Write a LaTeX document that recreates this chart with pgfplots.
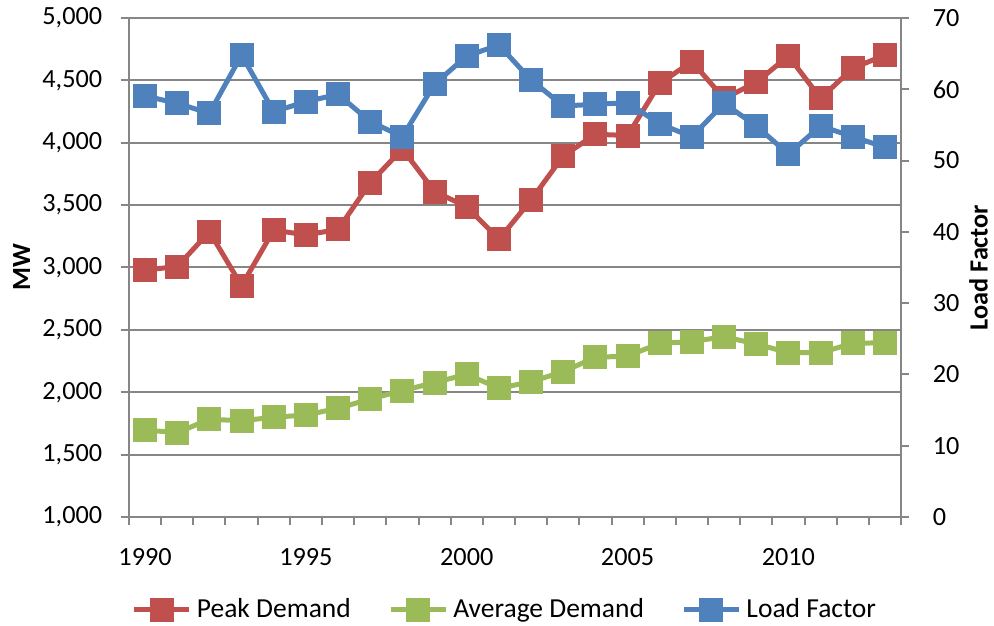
\documentclass[border=0pt]{standalone}
\usepackage{fontspec}
\setmainfont{Carlito}
\usepackage{pgfplots}
\pgfplotsset{compat=1.18}

\definecolor{peak}{HTML}{C0504D}
\definecolor{avg}{HTML}{9BBB59}
\definecolor{lf}{HTML}{4F81BD}
\definecolor{gridgray}{HTML}{868686}

\pgfplotsset{
  base/.style={
    scale only axis, width=308.8pt, height=199.6pt,
    at={(0,0)}, anchor=south west,
    xmin=1989.5, xmax=2013.5,
    tick label style={font=\fontsize{10.5}{12}\selectfont},
    label style={font=\fontsize{10.5}{12}\selectfont\bfseries},
    /pgf/number format/assume math mode=true,
    tick align=outside,
    major tick length=3.2pt,
    axis line style={gridgray, line width=0.8pt},
    tick style={gridgray, line width=0.8pt},
  },
  series/.style={color=#1, line width=2pt, mark=square*, mark size=3.8pt,
    mark options={solid, fill=#1, draw=#1}},
  legend image code/.code={
    \draw[mark repeat=2, mark phase=2] plot coordinates {(0pt,0pt) (11pt,0pt) (22pt,0pt)};},
}

\begin{document}
\begin{tikzpicture}
\path[use as bounding box] (-51.6pt,-43.6pt) rectangle (346pt,206.8pt);

\begin{axis}[base,
  axis x line*=bottom, axis y line*=left,
  ymin=1000, ymax=5000, ytick={1000,1500,...,5000},
  ymajorgrids, grid style={gridgray, line width=0.8pt},
  yticklabel style={/pgf/number format/.cd, 1000 sep={,}, /tikz/.cd, xshift=-4pt},
  xtick={1989.5,1990.5,...,2013.5}, xticklabel=\empty,
  extra x ticks={1990,1995,2000,2005,2010},
  extra x tick labels={1990,1995,2000,2005,2010},
  extra x tick style={major tick length=0pt, grid=none,
    xticklabel style={yshift=-9pt}},
  ylabel={MW}, ylabel shift=-2pt,
  legend style={at={(0.489,-0.186)}, anchor=center, legend columns=3,
    draw=none, fill=none, font=\fontsize{11}{13}\selectfont,
    /tikz/every even column/.append style={column sep=13pt},
    legend cell align=left},
]
\addplot[series=peak] coordinates {
  (1990,2980) (1991,3007) (1992,3287) (1993,2854) (1994,3300) (1995,3261)
  (1996,3305) (1997,3680) (1998,3950) (1999,3608) (2000,3488) (2001,3226)
  (2002,3541) (2003,3894) (2004,4068) (2005,4058) (2006,4476) (2007,4650)
  (2008,4355) (2009,4484) (2010,4695) (2011,4356) (2012,4597) (2013,4703)
};
\addlegendentry{Peak Demand}
\addplot[series=avg] coordinates {
  (1990,1697) (1991,1676) (1992,1783) (1993,1772) (1994,1799) (1995,1818)
  (1996,1871) (1997,1946) (1998,2013) (1999,2077) (2000,2144) (2001,2032)
  (2002,2084) (2003,2165) (2004,2280) (2005,2290) (2006,2392) (2007,2406)
  (2008,2445) (2009,2387) (2010,2317) (2011,2317) (2012,2392) (2013,2397)
};
\addlegendentry{Average Demand}
\addlegendimage{series=lf}
\addlegendentry{Load Factor}
\end{axis}

\begin{axis}[base,
  axis y line*=right, axis x line=none,
  ymin=0, ymax=70, ytick={0,10,...,70},
  yticklabel style={xshift=6pt},
  ylabel={Load Factor}, ylabel shift=-3pt,
]
\addplot[series=lf] coordinates {
  (1990,59.06) (1991,58.03) (1992,56.63) (1993,64.81) (1994,56.86) (1995,58.26)
  (1996,59.29) (1997,55.46) (1998,53.35) (1999,60.74) (2000,64.67) (2001,66.21)
  (2002,61.30) (2003,57.66) (2004,57.89) (2005,58.12) (2006,55.13) (2007,53.35)
  (2008,58.03) (2009,54.85) (2010,50.92) (2011,54.85) (2012,53.35) (2013,51.86)
};
\end{axis}
\end{tikzpicture}
\end{document}
